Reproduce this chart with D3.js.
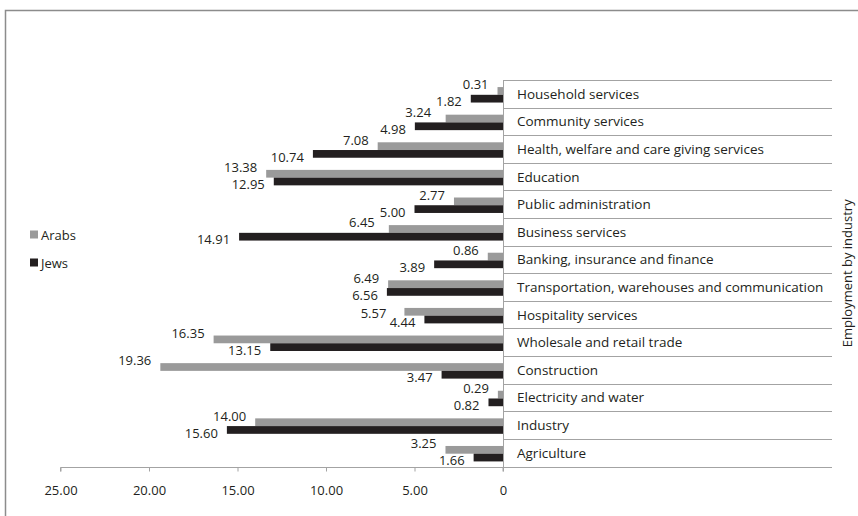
<!DOCTYPE html>
<html>
<head>
<meta charset="utf-8">
<script src="https://cdn.jsdelivr.net/npm/d3@7/dist/d3.min.js"></script>
<style>
  html, body { margin: 0; padding: 0; background: #ffffff; }
  svg { display: block; }
  text { font-family: "Open Sans", "Noto Sans", sans-serif; fill: #231f20; }
</style>
</head>
<body>
<svg id="chart" width="858" height="516"></svg>
<script>
// ---- data ----
const categories = [
  "Household services",
  "Community services",
  "Health, welfare and care giving services",
  "Education",
  "Public administration",
  "Business services",
  "Banking, insurance and finance",
  "Transportation, warehouses and communication",
  "Hospitality services",
  "Wholesale and retail trade",
  "Construction",
  "Electricity and water",
  "Industry",
  "Agriculture"
];
const seriesNames = ["Arabs", "Jews"];
const arabs = [0.31, 3.24, 7.08, 13.38, 2.77, 6.45, 0.86, 6.49, 5.57, 16.35, 19.36, 0.29, 14.00, 3.25];
const jews  = [1.82, 4.98, 10.74, 12.95, 5.00, 14.91, 3.89, 6.56, 4.44, 13.15, 3.47, 0.82, 15.60, 1.66];
const tickValues = [25, 20, 15, 10, 5, 0];
const tickLabels = ["25.00", "20.00", "15.00", "10.00", "5.00", "0"];
const axisTitle = "Employment by industry";

// ---- layout ----
const W = 858, H = 516;
const plotTop = 80, plotBottom = 466.5;
const zeroX = 503, leftX = 60.5, rowRight = 832;
const colors = { Arabs: "#9a9a9a", Jews: "#231f20" };
const lineColor = "#a3a3a3";

const svg = d3.select("#chart");

// outer frame (only top and left edges visible)
svg.append("path")
  .attr("d", `M5.5,${H} V10.5 H${W}`)
  .attr("fill", "none")
  .attr("stroke", "#8c8c8c")
  .attr("stroke-width", 1.5);

const x = d3.scaleLinear().domain([0, 25]).range([zeroX, leftX]);
const rows = d3.scaleBand().domain(categories).range([plotTop, plotBottom]).padding(0);
const y = d3.scaleBand().domain(categories).range([plotTop, plotBottom])
  .paddingInner(0.44).paddingOuter(0.22);
const ySub = d3.scaleBand().domain(seriesNames).range([0, y.bandwidth()]).padding(0);

const data = categories.map((c, i) => ({ cat: c, Arabs: arabs[i], Jews: jews[i] }));

// row separator lines on the right (table)
const g = svg.append("g");
g.selectAll("line.row")
  .data(categories)
  .join("line")
  .attr("class", "row")
  .attr("x1", zeroX).attr("x2", rowRight)
  .attr("y1", d => Math.round(rows(d)) + 0.5)
  .attr("y2", d => Math.round(rows(d)) + 0.5)
  .attr("stroke", lineColor).attr("stroke-width", 1);
g.append("line")
  .attr("x1", zeroX).attr("x2", rowRight)
  .attr("y1", Math.round(plotBottom) + 0.5).attr("y2", Math.round(plotBottom) + 0.5)
  .attr("stroke", lineColor).attr("stroke-width", 1);

// bars
const barNodes = {};
seriesNames.forEach(s => {
  barNodes[s] = g.selectAll("rect.bar-" + s)
    .data(data)
    .join("rect")
    .attr("class", "bar-" + s)
    .attr("x", d => x(d[s]))
    .attr("width", d => zeroX - x(d[s]))
    .attr("y", d => y(d.cat) + ySub(s) + 1)
    .attr("height", ySub.bandwidth())
    .attr("fill", colors[s])
    .nodes();
});

// value labels
const labA = g.selectAll("text.lab-a")
  .data(data)
  .join("text")
  .attr("class", "lab-a")
  .attr("x", d => x(d.Arabs) - 9)
  .attr("y", d => rows(d.cat) + rows.bandwidth() / 2 - 9.5)
  .attr("dominant-baseline", "central")
  .attr("text-anchor", "end")
  .attr("font-size", 13)
  .text(d => d.Arabs.toFixed(2));
const labJ = g.selectAll("text.lab-j")
  .data(data)
  .join("text")
  .attr("class", "lab-j")
  .attr("x", d => x(d.Jews) - 9)
  .attr("y", d => rows(d.cat) + rows.bandwidth() / 2 + 7.5)
  .attr("dominant-baseline", "central")
  .attr("text-anchor", "end")
  .attr("font-size", 13)
  .text(d => d.Jews.toFixed(2));

// collision avoidance for the grey labels
const aNodes = labA.nodes(), jNodes = labJ.nodes();
function boxOverlap(p, q, shrink) {
  return p.x < q.x + q.width && q.x < p.x + p.width &&
         p.y + shrink < q.y + q.height && q.y + shrink < p.y + p.height;
}
for (let i = 1; i < aNodes.length; i++) {
  const d = data[i];
  const node = d3.select(aNodes[i]);
  if (!boxOverlap(aNodes[i].getBBox(), jNodes[i - 1].getBBox(), 3)) continue;
  // option 1: drop beside its own bar
  const oldX = node.attr("x"), oldY = node.attr("y");
  node.attr("y", rows(d.cat) + rows.bandwidth() / 2 - 2).attr("x", x(d.Arabs) - 18);
  const b = aNodes[i].getBBox();
  const clash = boxOverlap(b, jNodes[i].getBBox(), 3) ||
                boxOverlap(b, barNodes.Jews[i].getBBox(), 0) ||
                boxOverlap(b, jNodes[i - 1].getBBox(), 3);
  if (clash) {
    // option 2: keep height, move left of the label above
    const prev = jNodes[i - 1].getBBox();
    node.attr("y", oldY).attr("x", Math.min(+oldX, prev.x - 5));
  }
}

// category labels
g.selectAll("text.cat")
  .data(categories)
  .join("text")
  .attr("class", "cat")
  .attr("x", 517)
  .attr("y", d => rows(d) + rows.bandwidth() / 2)
  .attr("dominant-baseline", "central")
  .attr("font-size", 13.5)
  .text(d => d);

// vertical zero line
g.append("line")
  .attr("x1", zeroX + 0.5).attr("x2", zeroX + 0.5)
  .attr("y1", plotTop).attr("y2", plotBottom + 4)
  .attr("stroke", lineColor).attr("stroke-width", 1);

// x axis
const xAxis = d3.axisBottom(x)
  .tickValues(tickValues)
  .tickFormat((d, i) => tickLabels[i])
  .tickSize(4)
  .tickPadding(14);
const ax = svg.append("g")
  .attr("transform", `translate(0,${Math.round(plotBottom) + 0.5})`)
  .call(xAxis);
ax.select(".domain").attr("stroke", lineColor).attr("d", `M${leftX},4V0H${zeroX}V4`);
ax.selectAll(".tick line").attr("stroke", lineColor);
ax.selectAll(".tick text")
  .attr("font-size", 13)
  .attr("font-family", "Open Sans, Noto Sans, sans-serif")
  .attr("fill", "#231f20");

// axis title (right, rotated)
svg.append("text")
  .attr("transform", `translate(847, ${(plotTop + plotBottom) / 2}) rotate(-90)`)
  .attr("text-anchor", "middle")
  .attr("dominant-baseline", "central")
  .attr("font-size", 13)
  .text(axisTitle);

// legend
const legend = svg.append("g");
seriesNames.forEach((s, i) => {
  const ly = 234.5 + i * 28;
  legend.append("rect")
    .attr("x", 30).attr("y", ly - 4)
    .attr("width", 8).attr("height", 8)
    .attr("fill", colors[s]);
  legend.append("text")
    .attr("x", 41).attr("y", ly)
    .attr("dominant-baseline", "central")
    .attr("font-size", 13)
    .text(s);
});
</script>
</body>
</html>
